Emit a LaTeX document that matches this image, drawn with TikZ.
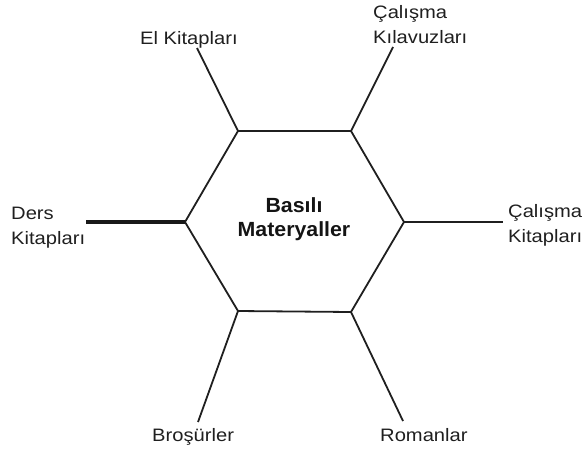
\documentclass[tikz,border=0pt]{standalone}
\usepackage{fontspec}
\setmainfont[FakeStretch=1.12]{Liberation Sans}
\newfontfamily\corefont[FakeStretch=1.04]{Liberation Sans}
\begin{document}
\begin{tikzpicture}[x=1pt,y=-1pt,
  edge/.style={line width=1.8pt,color=black!88},
  thickedge/.style={line width=3.2pt,color=black!90},
  lbl/.style={inner sep=0pt,font=\fontsize{18}{25}\selectfont,text=black!88,align=left},
  centre/.style={inner sep=0pt,font=\corefont\fontsize{20.5}{24}\selectfont\bfseries,text=black!92,align=center}]
\useasboundingbox (0,0) rectangle (585,450);
% hexagon corners
\coordinate (A) at (238,131);
\coordinate (B) at (351,131);
\coordinate (C) at (404,222);
\coordinate (D) at (351,312);
\coordinate (E) at (238,311);
\coordinate (F) at (185,222);
\draw[edge,line join=miter] (A) -- (B) -- (C) -- (D) -- (E) -- (F) -- cycle;
\node[centre] (core) at (294,219) {Basılı\\Materyaller};
% labels
\node[lbl,anchor=base west] (el) at (140,44) {El Kitapları};
\node[lbl,anchor=west] (kil) at (373,25) {Çalışma\\Kılavuzları};
\node[lbl,anchor=west] (ders) at (11,228) {Ders\\Kitapları};
\node[lbl,anchor=west] (ckit) at (508,225) {Çalışma\\Kitapları};
\node[lbl,anchor=base west] (bro) at (152,441) {Broşürler};
\node[lbl,anchor=base west] (rom) at (380,441) {Romanlar};
% free ends of the spokes
\coordinate (elE) at (197,48);
\coordinate (kilE) at (393,47);
\coordinate (dersE) at (86,222);
\coordinate (ckitE) at (503,222);
\coordinate (broE) at (198,422);
\coordinate (romE) at (403,421);
% spokes
\draw[edge] (A) -- (elE);
\draw[edge] (B) -- (kilE);
\draw[thickedge] (F) -- (dersE);
\draw[edge] (C) -- (ckitE);
\draw[edge] (E) -- (broE);
\draw[edge] (D) -- (romE);
\end{tikzpicture}
\end{document}
